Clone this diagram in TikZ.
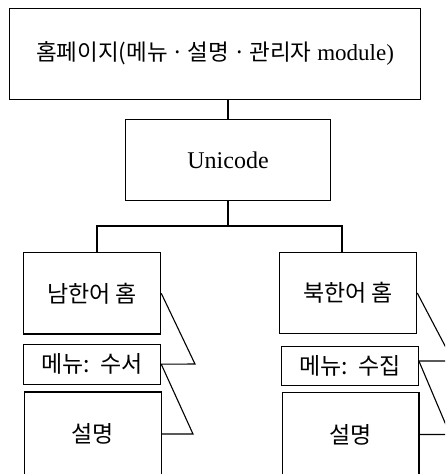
\documentclass[tikz,border=0pt]{standalone}
\usepackage{fontspec}
\setmainfont{Liberation Serif}
\newfontfamily\kr{Noto Sans CJK KR}
\begin{document}
\begin{tikzpicture}[x=1pt,y=-1pt,
  box/.style={draw, line width=1.1pt, inner sep=0pt, anchor=center},
  krtext/.style={font=\kr\fontsize{23}{27}\selectfont},
  link/.style={line width=1.1pt, line join=miter}]
\useasboundingbox (0,0) rectangle (445,474);
\clip (0,0) rectangle (445,474);
% top level
\node[box, minimum width=411pt, minimum height=91pt, font=\fontsize{23}{27}\selectfont] (top) at (215,53.8)
  {{\kr\fontsize{22.5}{27}\selectfont 홈페이지(메뉴\,·\,설명\,·\,관리자} module)};
\node[box, minimum width=205pt, minimum height=81pt, font=\fontsize{24}{28}\selectfont] (uni) at (228,160) {Unicode};
% left column
\node[box, krtext, minimum width=137.4pt, minimum height=81.3pt] (lhome) at (92,293.3) {남한어 홈};
\node[box, krtext, minimum width=137.4pt, minimum height=39.7pt] (lmenu) at (92,364.2) {메뉴:\ \ 수서};
\node[box, krtext, minimum width=137pt, minimum height=84pt] (ldesc) at (92.8,434) {설명};
% right column
\node[box, krtext, minimum width=137.4pt, minimum height=80.7pt] (rhome) at (348,293) {북한어 홈};
\node[box, krtext, minimum width=137.3pt, minimum height=39pt] (rmenu) at (349.7,366.2) {메뉴:\ \ 수집};
\node[box, krtext, minimum width=136.3pt, minimum height=85pt] (rdesc) at (350.8,435.3) {설명};
% tree connectors
\coordinate (jL) at (97,226);
\coordinate (jR) at (342,226);
\draw[link] (uni.north |- top.south) -- (uni.north);
\draw[link] (uni.south) -- (uni.south |- jL);
\draw[link] (lhome.north -| jL) -- (jL) -- (jR) -- (rhome.north -| jR);
% brackets left
\coordinate (tL1) at (195,364);
\coordinate (tL2) at (193,434);
\draw[link] (lhome.east) -- (tL1) -- (lmenu.east);
\draw[link] (lmenu.east) -- (tL2) -- (ldesc.east);
% brackets right
\coordinate (tR1) at (453,361);
\coordinate (tR2) at (450,434.5);
\draw[link] (rhome.east) -- (tR1) -- (rmenu.east |- tR1);
\draw[link] (rmenu.east |- tR1) -- (tR2) -- (rdesc.east |- tR2);
\end{tikzpicture}
\end{document}
